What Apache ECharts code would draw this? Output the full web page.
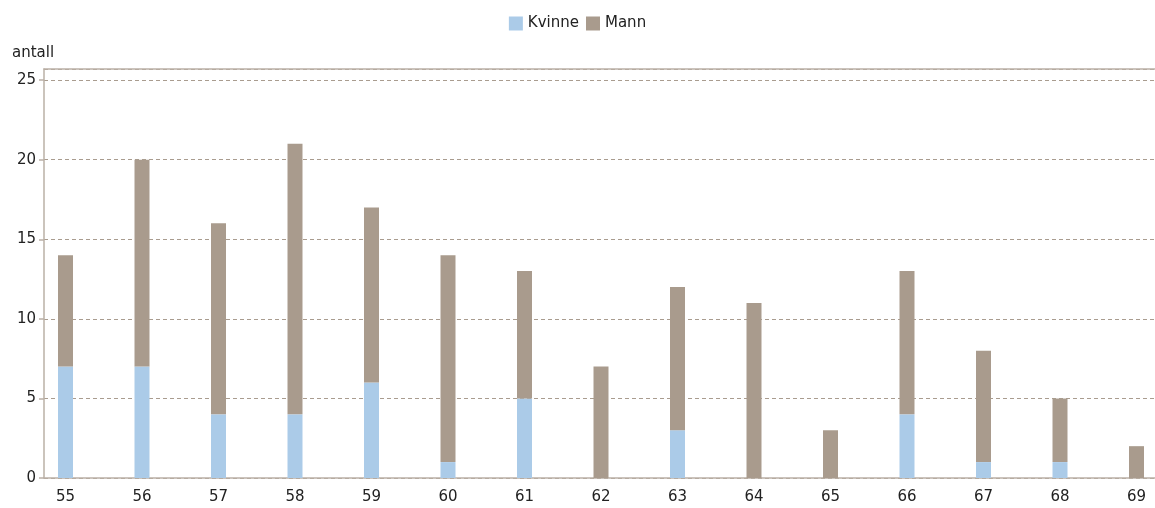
<!DOCTYPE html>
<html>
<head>
<meta charset="utf-8">
<script src="https://cdn.jsdelivr.net/npm/echarts@6/dist/echarts.min.js"></script>
<style>
  html, body { margin: 0; padding: 0; background: #fff; }
  #chart { width: 1155px; height: 508px; }
</style>
</head>
<body>
<div id="chart"></div>
<script>
// Age groups and headcounts per sex
const ages = ['55', '56', '57', '58', '59', '60', '61', '62', '63', '64', '65', '66', '67', '68', '69'];
const kvinne = [7, 7, 4, 4, 6, 1, 5, 0, 3, 0, 0, 4, 1, 1, 0];
const mann = [7, 13, 12, 17, 11, 13, 8, 7, 9, 11, 3, 9, 7, 4, 2];
const yMax = 25.7;
const yInterval = 5;

const FONT = '"DejaVu Sans", Verdana, sans-serif';
const FS = 15;
const TEXT = '#222222';
const AXIS = '#bab0a6';
const GRIDLINE = '#a99c8f';

const chart = echarts.init(document.getElementById('chart'), null, { renderer: 'canvas' });

chart.setOption({
  animation: false,
  textStyle: { fontFamily: FONT },
  title: {
    text: 'antall',
    left: 7,
    top: 41,
    textStyle: { fontFamily: FONT, fontSize: FS, fontWeight: 'normal', color: TEXT }
  },
  legend: {
    top: 11,
    left: 'center',
    icon: 'rect',
    itemWidth: 14,
    itemHeight: 14,
    itemGap: 7,
    textStyle: { fontFamily: FONT, fontSize: FS, color: TEXT, padding: [0, 0, 0, 0] },
    data: ['Kvinne', 'Mann']
  },
  grid: [
    // bars and category labels
    { left: 65.5, right: 18.5, top: 69, bottom: 30 },
    // frame, value scale and dashed guide lines
    { left: 44, right: 0, top: 69, bottom: 30 }
  ],
  xAxis: [
    {
      type: 'category',
      gridIndex: 0,
      data: ages,
      boundaryGap: false,
      axisLine: { show: false },
      axisTick: { show: false },
      splitLine: { show: false },
      axisLabel: { fontFamily: FONT, fontSize: FS, color: TEXT, margin: 12 }
    },
    {
      type: 'value',
      gridIndex: 1,
      position: 'bottom',
      min: 0, max: 1,
      axisLine: { show: true, lineStyle: { color: AXIS, width: 1.5 } },
      axisTick: { show: false },
      axisLabel: { show: false },
      splitLine: { show: false }
    },
    {
      type: 'value',
      gridIndex: 1,
      position: 'top',
      min: 0, max: 1,
      axisLine: { show: true, lineStyle: { color: AXIS, width: 1.5 } },
      axisTick: { show: false },
      axisLabel: { show: false },
      splitLine: { show: false }
    }
  ],
  yAxis: [
    {
      type: 'value',
      gridIndex: 0,
      min: 0, max: yMax,
      show: false
    },
    {
      type: 'value',
      gridIndex: 1,
      min: 0, max: yMax,
      interval: yInterval,
      axisLine: { show: true, lineStyle: { color: AXIS, width: 1.5 } },
      axisTick: { show: true, length: 5, lineStyle: { color: AXIS, width: 1.5 } },
      axisLabel: { fontFamily: FONT, fontSize: FS, color: TEXT, margin: 8, showMaxLabel: false },
      splitLine: { show: true, lineStyle: { color: GRIDLINE, type: [4, 3], width: 1 } }
    }
  ],
  series: [
    {
      name: 'Kvinne',
      type: 'bar',
      stack: 'total',
      xAxisIndex: 0,
      yAxisIndex: 0,
      barWidth: 15,
      itemStyle: { color: '#abcbe8' },
      data: kvinne
    },
    {
      name: 'Mann',
      type: 'bar',
      stack: 'total',
      xAxisIndex: 0,
      yAxisIndex: 0,
      barWidth: 15,
      itemStyle: { color: '#a99b8d' },
      data: mann
    }
  ]
});
</script>
</body>
</html>
